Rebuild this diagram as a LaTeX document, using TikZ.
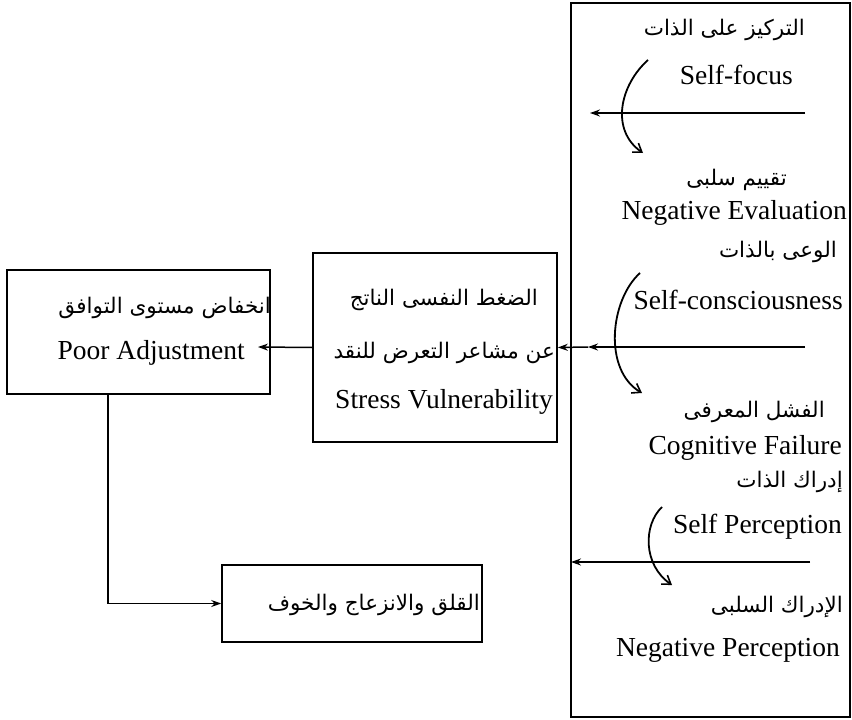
\documentclass[tikz,border=0pt]{standalone}
\usepackage{fontspec}
\setmainfont{Liberation Serif}
\newfontfamily\arabicfont[Script=Arabic]{DejaVu Sans}
\TeXXeTstate=1
\usetikzlibrary{arrows.meta,calc}
\begin{document}
\begin{tikzpicture}[x=1pt,y=-1pt,
  boxstyle/.style={draw, line width=1.6pt, inner sep=0pt},
  en/.style={font=\fontsize{27.5}{30}\selectfont, inner sep=0pt},
  ar/.style={font=\arabicfont\fontsize{21.5}{24}\selectfont, inner sep=0pt},
  flow/.style={line width=1.5pt, -{Stealth[length=10pt,width=7pt]}},
  curvearrow/.style={line width=1.8pt, -{Straight Barb[length=8pt,width=11pt,line width=1.6pt]}}]
\useasboundingbox (0,0) rectangle (852,720);
% boxes
\node[boxstyle, minimum width=279pt, minimum height=714pt] (big) at (710.5,360) {};
\node[boxstyle, minimum width=244pt, minimum height=189pt] (stress) at (435,347.5) {};
\node[boxstyle, minimum width=263pt, minimum height=124pt] (poor) at (138.5,332) {};
\node[boxstyle, minimum width=260pt, minimum height=77pt] (anx) at (352,603.5) {};
% right column texts
\node[ar, anchor=east] (t1a) at (805,30) {\beginR التركيز على الذات\endR};
\node[en, anchor=east] (t1b) at (793,75) {Self-focus};
\node[ar, anchor=east] (t2a) at (787,180) {\beginR تقييم سلبى\endR};
\node[en, anchor=east] (t2b) at (847,213) {Negative Evaluation};
\node[ar, anchor=east] (t3a) at (837,252) {\beginR الوعى بالذات\endR};
\node[en, anchor=east] (t3b) at (843,300) {Self-consciousness};
\node[ar, anchor=east] (t4a) at (825,412) {\beginR الفشل المعرفى\endR};
\node[en, anchor=east] (t4b) at (842,448) {Cognitive Failure};
\node[ar, anchor=east] (t5a) at (843,482) {\beginR إدراك الذات\endR};
\node[en, anchor=east] (t5b) at (842,527) {Self Perception};
\node[ar, anchor=east] (t6a) at (843,607) {\beginR الإدراك السلبى\endR};
\node[en, anchor=east] (t6b) at (840,650) {Negative Perception};
% stress texts
\node[ar, anchor=east] (s1) at (538,300) {\beginR الضغط النفسى الناتج\endR};
\node[ar, anchor=east] (s2) at (555,353) {\beginR عن مشاعر التعرض للنقد\endR};
\node[en, anchor=east] (s3) at (553,402) {Stress Vulnerability};
% poor texts
\node[ar, anchor=east] (p1) at (271,308) {\beginR انخفاض مستوى التوافق\endR};
\node[en, anchor=east] (p2) at (245,353) {Poor Adjustment};
% anxiety text
\node[ar, anchor=east] (x1) at (480,605) {\beginR القلق والانزعاج والخوف\endR};
% coordinates
\coordinate (h1s) at (805,113);
\coordinate (h1e) at (590,113);
\coordinate (h2s) at (805,347);
\coordinate (h2e) at (588,347);
\coordinate (h3s) at (810,562);
\coordinate (h3e) at (571,562);
\coordinate (pa) at (258,347);
\coordinate (pb) at (108,394);
% horizontal arrows
\draw[flow] (h1s) -- (h1e);
\draw[flow] (h2s) -- (h2e);
\draw[flow] (h2e) -- (stress.east);
\draw[flow] (h3s) -- (h3e);
\draw[flow] (stress.west) -- (pa);
\draw[flow] (pb) |- (anx.west);
% curved arrows
\coordinate (b1s) at (648,60);
\coordinate (b1e) at (643,153);
\coordinate (b2s) at (640,273);
\coordinate (b2e) at (642,393);
\coordinate (b3s) at (662,507);
\coordinate (b3e) at (672,585);
\draw[curvearrow] (b1s) .. controls (620,85) and (610,130) .. (b1e);
\draw[curvearrow] (b2s) .. controls (610,300) and (603,370) .. (b2e);
\draw[curvearrow] (b3s) .. controls (643,525) and (643,565) .. (b3e);
\end{tikzpicture}
\end{document}
